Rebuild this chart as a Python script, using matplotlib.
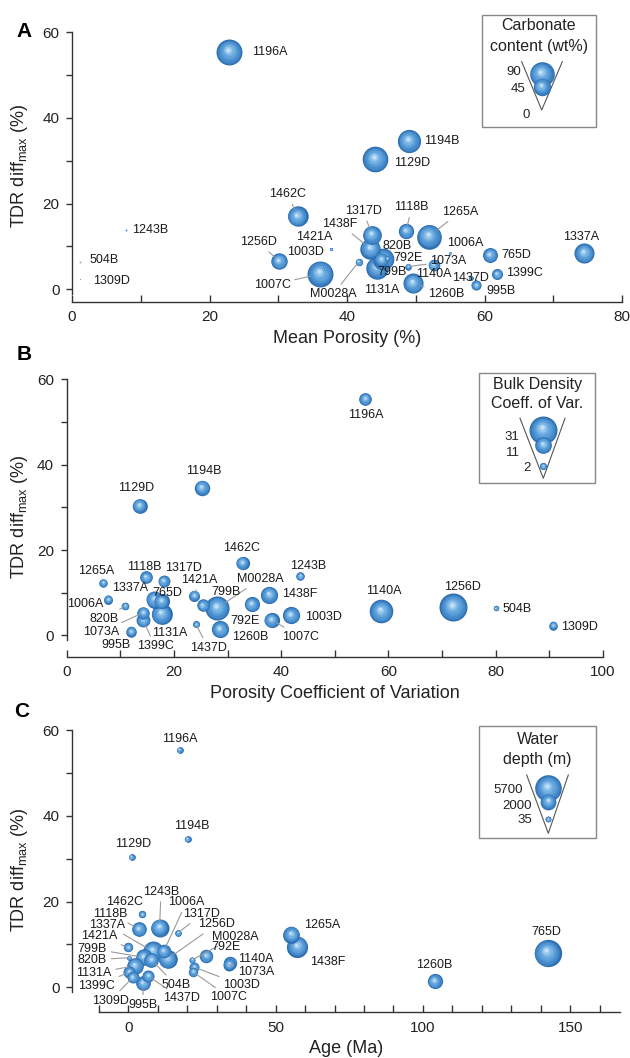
import numpy as np
import matplotlib
matplotlib.use('Agg')
import matplotlib.pyplot as plt
import matplotlib.transforms as mtransforms

plt.rcParams['font.family'] = ['Liberation Sans', 'DejaVu Sans']
plt.rcParams['mathtext.fontset'] = 'custom'
plt.rcParams['mathtext.rm'] = 'Liberation Sans'

# data per drill site
sites = ['1196A', '1194B', '1129D', '1462C', '1243B', '504B', '1309D', '1256D', '1421A', '1003D',
         '1007C', '1317D', '1438F', '820B', 'M0028A', '792E', '799B', '1131A', '1118B', '1265A',
         '1006A', '765D', '1073A', '1140A', '1260B', '1437D', '995B', '1399C', '1337A']
tdr = [55.4, 34.6, 30.4, 17.0, 13.9, 6.4, 2.3, 6.6, 9.3, 4.7,
       3.6, 12.7, 9.5, 6.9, 6.4, 7.3, 7.0, 5.0, 13.6, 12.3,
       8.4, 8.0, 5.3, 5.6, 1.4, 2.6, 0.9, 3.5, 8.4]
porosity = [22.9, 49.0, 44.1, 32.8, 7.8, 1.2, 1.2, 30.1, 37.7, 36.8,
            36.1, 43.6, 43.4, 45.0, 41.7, 45.8, 45.2, 44.4, 48.6, 51.9,
            55.0, 60.8, 48.9, 52.6, 49.6, 58.0, 58.8, 61.8, 74.5]
carbonate = [100, 80, 98, 62, 0.4, 0.3, 0.2, 40, 1.5, 1.5,
             100, 52, 62, 30, 8, 4, 70, 75, 35, 90,
             1, 33, 6, 20, 60, 3, 15, 18, 60]
por_cv = [55.7, 25.2, 13.6, 32.8, 43.5, 80.0, 90.7, 72.1, 23.8, 41.8,
          38.2, 18.1, 37.8, 10.9, 28.1, 34.5, 25.4, 17.7, 14.8, 6.85,
          7.8, 17.7, 14.3, 58.7, 28.6, 24.1, 12.0, 14.3, 16.4]
bulk_cv = [6.3, 9.4, 8.5, 7.0, 2.8, 1.2, 2.8, 31, 4.8, 11.7,
           9.1, 5.6, 11.7, 2.3, 23, 9.1, 6.1, 17, 6.3, 2.8,
           3.1, 9.1, 6.1, 22, 11.7, 1.9, 4.3, 7.6, 11.7]
age = [17.4, 20.1, 1.1, 4.7, 10.6, 7.8, 1.5, 13.3, 0.0, 22.4,
       22.0, 16.9, 57.4, 0.2, 21.7, 26.4, 5.2, 2.2, 3.6, 55.3,
       12.0, 142.3, 34.3, 34.5, 104.0, 6.8, 5.0, 0.3, 8.3]
water_depth = [350, 350, 350, 440, 2610, 1720, 1160, 2790, 710, 800,
               710, 350, 3620, 170, 290, 1450, 2220, 2220, 1720, 2270,
               1500, 6000, 1160, 1450, 1860, 1160, 1720, 1160, 3220]

leg_carb = [90, 45, 0]
leg_bulk = [31, 11, 2]
leg_depth = [5700, 2000, 35]

# label placement (data coords)
lab_a = {'1196A': (26.2, 55.5, 'left'), '1194B': (51.2, 34.7, 'left'), '1129D': (46.8, 29.6, 'left'),
         '1462C': (31.4, 22.2, 'center'), '1243B': (8.8, 13.9, 'left'), '504B': (2.6, 6.8, 'left'),
         '1309D': (3.1, 1.9, 'left'), '1256D': (27.1, 11.0, 'center'), '1421A': (35.2, 12.1, 'center'),
         '1003D': (34.0, 8.6, 'center'), '1007C': (31.8, 1.0, 'right'), '1317D': (42.4, 18.3, 'center'),
         '1118B': (49.4, 19.1, 'center'), '1265A': (53.8, 18.1, 'left'), '1438F': (39.0, 15.2, 'center'),
         '820B': (47.3, 10.2, 'center'), '1006A': (54.6, 10.7, 'left'), '765D': (62.4, 7.9, 'left'),
         '792E': (46.8, 7.4, 'left'), '1073A': (52.1, 6.5, 'left'), '799B': (44.4, 4.1, 'left'),
         '1140A': (50.0, 3.6, 'left'), '1437D': (55.3, 2.6, 'left'), '1399C': (63.1, 3.7, 'left'),
         '995B': (60.3, -0.5, 'left'), '1131A': (45.0, -0.2, 'center'), '1260B': (51.8, -1.1, 'left'),
         'M0028A': (38.0, -1.1, 'center'), '1337A': (74.1, 12.3, 'center')}
lead_a = {'1462C', '1256D', '1007C', '1317D', '1118B', '1265A', '1438F', 'M0028A', '1260B', '1073A', '1140A'}

lab_b = {'1196A': (55.7, 51.6, 'center'), '1194B': (25.5, 38.6, 'center'), '1129D': (13.0, 34.6, 'center'),
         '1462C': (32.6, 20.4, 'center'), '1243B': (45.0, 16.3, 'center'), '1265A': (5.5, 15.2, 'center'),
         '1118B': (14.5, 16.1, 'center'), '1317D': (21.8, 15.7, 'center'), '1421A': (24.8, 13.0, 'center'),
         'M0028A': (36.1, 13.2, 'center'), '799B': (29.8, 10.2, 'center'), '1337A': (11.8, 11.0, 'center'),
         '765D': (18.7, 10.0, 'center'), '1438F': (40.1, 9.7, 'left'), '1006A': (3.4, 7.4, 'center'),
         '820B': (7.0, 3.9, 'center'), '1073A': (6.4, 0.8, 'center'), '792E': (33.3, 3.4, 'center'),
         '1003D': (44.4, 4.2, 'left'), '1131A': (19.3, 0.6, 'center'), '1260B': (34.2, -0.3, 'center'),
         '1007C': (43.6, -0.3, 'center'), '995B': (9.3, -2.3, 'center'), '1399C': (16.5, -2.6, 'center'),
         '1437D': (26.4, -2.9, 'center'), '1140A': (59.1, 10.5, 'center'), '1256D': (73.8, 11.4, 'center'),
         '504B': (81.3, 6.1, 'left'), '1309D': (92.2, 2.0, 'left')}
lead_b = {'M0028A', '820B', '1073A', '1399C', '1437D', '1007C', '1421A'}

lab_c = {'1243B': (11.1, 22.3, 'center'), '1462C': (-1.4, 20.0, 'center'), '1006A': (19.7, 19.8, 'center'),
         '1118B': (-6.1, 17.2, 'center'), '1317D': (25.0, 17.1, 'center'), '1337A': (-7.2, 14.6, 'center'),
         '1256D': (30.0, 14.7, 'center'), '1421A': (-10.0, 11.9, 'center'), 'M0028A': (36.3, 11.8, 'center'),
         '799B': (-12.2, 9.0, 'center'), '792E': (33.3, 9.3, 'center'), '820B': (-12.2, 6.4, 'center'),
         '1140A': (37.2, 6.6, 'left'), '1131A': (-11.7, 3.3, 'center'), '1073A': (37.2, 3.5, 'left'),
         '1399C': (-10.8, 0.4, 'center'), '504B': (11.1, 0.6, 'left'), '1003D': (32.2, 0.5, 'left'),
         '1309D': (-6.1, -3.1, 'center'), '995B': (5.0, -4.1, 'center'), '1437D': (11.7, -2.6, 'left'),
         '1007C': (27.8, -2.3, 'left'), '1129D': (1.6, 33.4, 'center'), '1196A': (17.4, 58.0, 'center'),
         '1194B': (21.5, 37.6, 'center'), '1265A': (59.5, 14.5, 'left'), '1438F': (61.6, 6.0, 'left'),
         '1260B': (103.7, 5.2, 'center'), '765D': (142.0, 12.8, 'center')}
lead_c = {'1243B', '1006A', '1118B', '1317D', '1337A', '1256D', '1421A', 'M0028A', '799B', '820B',
          '1131A', '1399C', '504B', '1003D', '1007C', '1309D', '995B', '1437D', '1073A'}

W, H = 630, 1058
fig = plt.figure(figsize=(W / 100, H / 100), dpi=100)

shades = [(1.00, '#2c6cae'), (0.93, '#387bbd'), (0.84, '#4489c9'), (0.72, '#5196d3'),
          (0.58, '#61a3db'), (0.44, '#76b2e3'), (0.30, '#95c6ec'), (0.16, '#c4e0f6')]


def bubble(ax, x, y, s, z):
    r = np.sqrt(s) / 2
    for f, c in shades:
        shift = mtransforms.ScaledTranslation(-0.12 * r * (1 - f) / 72, 0.22 * r * (1 - f) / 72,
                                              fig.dpi_scale_trans)
        ax.scatter([x], [y], s=s * f * f, color=c, linewidths=0,
                   transform=ax.transData + shift, zorder=z, clip_on=False)


def px_rect(left, top, right, bottom):
    return [left / W, 1 - bottom / H, (right - left) / W, (bottom - top) / H]


def panel(rect, xv, sv, s_ref, v_ref, xlim, ylim, major, minor, xbounds, xlabel, labels, leaders, ylab_x):
    ax = fig.add_axes(rect)
    ax.set_facecolor('none')
    ax.set_xlim(*xlim)
    ax.set_ylim(*ylim)
    sizes = [s_ref * v / v_ref for v in sv]
    order = np.argsort(sizes)[::-1]
    for k, i in enumerate(order):
        bubble(ax, xv[i], tdr[i], sizes[i], 3 + k * 0.01)
    for i, name in enumerate(sites):
        tx, ty, ha = labels[name]
        r_pt = np.sqrt(sizes[i]) / 2
        if name in leaders:
            ax.annotate(name, xy=(xv[i], tdr[i]), xytext=(tx, ty), ha=ha, va='center',
                        fontsize=9, color='#1a1a1a', zorder=5,
                        arrowprops=dict(arrowstyle='-', color='#9a9a9a', lw=0.8,
                                        shrinkA=1, shrinkB=r_pt * 0.8))
        else:
            ax.text(tx, ty, name, ha=ha, va='center', fontsize=9, color='#1a1a1a', zorder=5)
    for sp in ['top', 'right']:
        ax.spines[sp].set_visible(False)
    ax.spines['left'].set_bounds(-1.2, 60)
    ax.spines['bottom'].set_bounds(*xbounds)
    for sp in ['left', 'bottom']:
        ax.spines[sp].set_color('#333333')
        ax.spines[sp].set_linewidth(1.0)
    ax.set_yticks([0, 20, 40, 60])
    ax.set_yticks([10, 30, 50], minor=True)
    ax.set_xticks(major)
    ax.set_xticks(minor, minor=True)
    ax.tick_params(axis='y', which='both', direction='out', length=4, width=1, pad=5,
                   labelsize=11, colors='#333333', labelcolor='#222222')
    ax.tick_params(axis='x', which='both', direction='in', length=5, width=1, pad=6,
                   labelsize=11, colors='#333333', labelcolor='#222222')
    ax.set_xlabel(xlabel, fontsize=13, color='#222222', labelpad=4)
    ax.set_ylabel(r'TDR diff$_{\mathregular{max}}$ (%)', fontsize=13, color='#222222')
    ax.yaxis.set_label_coords(ylab_x, 0.5)
    return ax


# Panel A
panel(px_rect(72, 30.2, 622, 301.7), porosity, carbonate, 313.8, 90, (0, 80), (-2.9, 60.5),
      [0, 20, 40, 60, 80], np.arange(0, 81, 10), (0, 80), 'Mean Porosity (%)',
      lab_a, lead_a, -0.076)
# Panel B
panel(px_rect(66.6, 377.2, 603, 656.7), por_cv, bulk_cv, 406.4, 31, (0, 100), (-5.0, 60.5),
      [0, 20, 40, 60, 80, 100], np.arange(0, 101, 10), (0, 100), 'Porosity Coefficient of Variation',
      lab_b, lead_b, -0.068)
# Panel C
panel(px_rect(71.9, 727.9, 620, 1012.3), age, water_depth, 366.8, 5700, (-19.16, 166.9), (-5.83, 60.5),
      [0, 50, 100, 150], np.arange(-10, 161, 10), (-10, 166.9), 'Age (Ma)',
      lab_c, lead_c, -0.076)

# overlay in figure pixels for legends and panel letters
over = fig.add_axes([0, 0, 1, 1])
over.set_xlim(0, W)
over.set_ylim(H, 0)
over.axis('off')

for letter, (lx, ly) in zip('ABC', [(24, 31.7), (24, 355), (22, 711.7)]):
    over.text(lx, ly, letter, fontsize=15, fontweight='bold', ha='center', va='center', color='black')


def size_legend(box, title, title_y, vtop, apex, values, s_ref, v_ref, bub_y, lab_pos, s_min=18):
    x0, y0, x1, y1 = box
    over.add_patch(plt.Rectangle((x0, y0), x1 - x0, y1 - y0, fill=False, ec='#888888', lw=1.0, zorder=2))
    cx = (x0 + x1) / 2
    for t, ty in zip(title, title_y):
        over.text(cx, ty, t, fontsize=11.5, ha='center', va='center', color='#222222')
    over.plot([vtop[0], apex[0], vtop[1]], [vtop[2], apex[1], vtop[2]], color='#555555', lw=0.8, zorder=2)
    for k, (v, by) in enumerate(zip(values, bub_y)):
        if v > 0:
            bubble(over, apex[0], by, max(s_ref * v / v_ref, s_min), 3 + k * 0.1)
    for v, (lx, ly) in zip(values, lab_pos):
        over.text(lx, ly, str(v), fontsize=9.5, ha='center', va='center', color='#222222', zorder=6)


size_legend((482, 15, 596, 127), ['Carbonate', 'content (wt%)'], [25, 46.7],
            (521.7, 562.3, 61.7), (541.7, 110), leg_carb, 313.8, 90, [74, 86.7, 110],
            [(513.3, 71.7), (517.7, 89.3), (525.7, 115)])
size_legend((479.3, 373.3, 595, 483.3), ['Bulk Density', 'Coeff. of Var.'], [384, 403.3],
            (520, 565, 418.3), (543.3, 478.3), leg_bulk, 406.4, 31, [430, 445, 466],
            [(511.7, 436.7), (512.7, 452.7), (527.3, 468.3)])
size_legend((479.3, 726, 596, 838.3), ['Water', 'depth (m)'], [739.3, 759.3],
            (526.7, 568.3, 775), (548.3, 833.3), leg_depth, 366.8, 5700, [788.3, 801.7, 819],
            [(508.3, 790), (516.7, 806), (525, 820)])

fig.savefig('out.png', dpi=100)
